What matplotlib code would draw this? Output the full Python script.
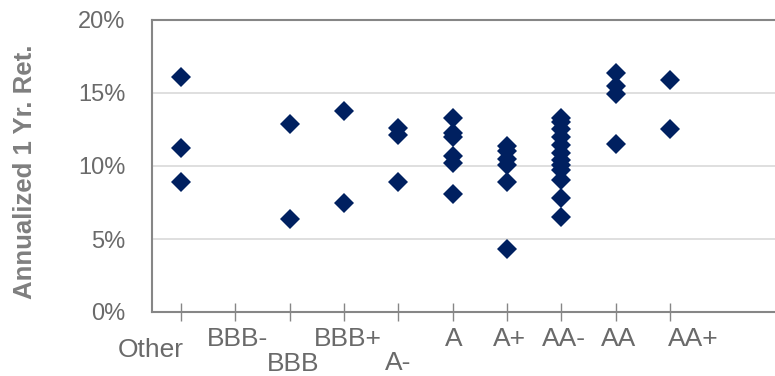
import matplotlib
matplotlib.use("Agg")
import matplotlib.pyplot as plt
from matplotlib.transforms import offset_copy
from matplotlib.ticker import FuncFormatter

# Credit rating buckets and annualized one-year returns (%)
ratings = ["Other", "BBB-", "BBB", "BBB+", "A-", "A", "A+", "AA-", "AA", "AA+"]
ret_other = [16.1, 11.2, 8.9]
ret_bbb_minus = []
ret_bbb = [12.9, 6.4]
ret_bbb_plus = [13.8, 7.5]
ret_a_minus = [12.6, 12.1, 8.9]
ret_a = [13.3, 12.25, 12.0, 10.7, 10.2, 8.1]
ret_a_plus = [11.4, 11.0, 10.5, 10.1, 8.9, 4.3]
ret_aa_minus = [13.3, 13.0, 12.5, 12.0, 11.45, 10.9, 10.4, 10.1, 9.7, 9.05, 7.8, 6.5]
ret_aa = [16.4, 15.5, 14.95, 11.5]
ret_aa_plus = [15.9, 12.5]
returns = [ret_other, ret_bbb_minus, ret_bbb, ret_bbb_plus, ret_a_minus,
           ret_a, ret_a_plus, ret_aa_minus, ret_aa, ret_aa_plus]
y_ticks = [0, 5, 10, 15, 20]

# Category label placement (pixel shifts, baseline depth below the axis)
label_dx = [-30, 2, 3, 4, 0, 1, 2.5, 3, 3, 23]
label_depth = [45, 34, 59, 34, 58, 34, 34, 34, 34, 34]

NAVY = "#002060"
AXIS_GREY = "#868686"
GRID_GREY = "#d9d9d9"
TEXT_GREY = "#6a6a6a"

fig = plt.figure(figsize=(7.75, 3.76), dpi=100)
ax = fig.add_axes([152 / 775, 1 - 312 / 376, 623 / 775, 292 / 376])

positions = list(range(1, len(ratings) + 1))
for pos, vals in zip(positions, returns):
    if vals:
        ax.plot([pos] * len(vals), vals, linestyle="none", marker="D",
                markersize=10, color=NAVY, markeredgewidth=0, zorder=3)

ax.set_xlim(0.466, 11.93)
ax.set_ylim(0, 20)

ax.set_yticks(y_ticks)
ax.yaxis.set_major_formatter(FuncFormatter(lambda v, _: f"{v:.0f}%"))
ax.tick_params(axis="y", length=0, pad=19, labelsize=17, labelcolor=TEXT_GREY)
for v in y_ticks[1:-1]:
    ax.axhline(v, color=GRID_GREY, linewidth=1.2, zorder=1)

ax.set_xticks(positions)
ax.tick_params(axis="x", direction="inout", length=12.5, width=1.0,
               color=AXIS_GREY, labelbottom=False)

for side in ("left", "bottom", "top"):
    ax.spines[side].set_color(AXIS_GREY)
    ax.spines[side].set_linewidth(1.5)
ax.spines["right"].set_visible(False)

base = ax.get_xaxis_transform()
for pos, name, dx, depth in zip(positions, ratings, label_dx, label_depth):
    tr = offset_copy(base, fig=fig, x=dx, y=-depth, units="dots")
    ax.text(pos, 0, name, transform=tr, ha="center", va="baseline",
            fontsize=19, color=TEXT_GREY, family="Liberation Sans")

fig.text(25 / 775, 1 - 171.5 / 376, "Annualized 1 Yr. Ret.", rotation=90,
         ha="center", va="center", fontsize=18.5, fontweight="bold",
         color="#7f7f7f", family="Liberation Sans")

for lbl in ax.get_yticklabels():
    lbl.set_family("Liberation Sans")

fig.savefig("out.png", dpi=100)
